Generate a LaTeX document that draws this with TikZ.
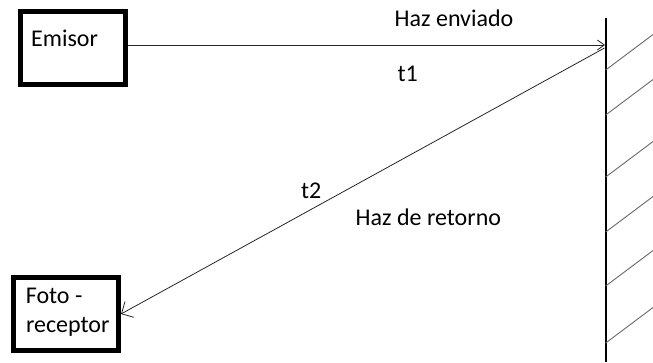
\documentclass[tikz,border=0pt]{standalone}
\usepackage{fontspec}
\setmainfont{Carlito}
\usetikzlibrary{arrows.meta}
\begin{document}
\begin{tikzpicture}[x=1pt,y=-1pt,
  box/.style={draw=black, line width=5pt, minimum width=105pt, minimum height=73pt, inner sep=0pt},
  lbl/.style={anchor=base west, inner sep=0pt, font=\fontsize{24}{29}\selectfont},
  beam/.style={draw=black!85, line width=0.8pt},
  hatch/.style={draw=black!60, line width=0.9pt},
  wall/.style={draw=black, line width=1.6pt}
]
\useasboundingbox (0,0) rectangle (653,362);
% boxes
\node[box] (emisor) at (73,48) {};
\node[box] (foto) at (66,314) {};
% labels inside boxes
\node[lbl] (emisortxt) at (31,46.7) {Emisor};
\node[lbl] (fototxt) at (25.6,303.3) {Foto -};
\node[lbl] (receptortxt) at (25.8,332.3) {receptor};
% wall
\coordinate (walltop) at (605.7,18);
\coordinate (wallbot) at (605.7,362);
\draw[wall] (walltop) -- (wallbot);
\foreach \y in {70,115,177,232,286,343}
  \draw[hatch] (605.7,\y) -- (653,\y-35.5);
% beams
\coordinate (hit) at (605,45);
\coordinate (ret) at (604.5,48);
\draw[beam, -{Straight Barb[length=7pt,width=10pt,line width=0.8pt]}] ([yshift=3pt]emisor.east) -- (hit);
\draw[beam, -{Straight Barb[length=9pt,width=18pt,line width=0.8pt]}] (ret) -- (foto.east);
% beam labels
\node[lbl] (enviado) at (394.5,26.7) {Haz enviado};
\node[lbl] (t1) at (397.5,81.7) {t1};
\node[lbl] (t2) at (301,198.3) {t2};
\node[lbl] (retorno) at (355.5,225) {Haz de retorno};
\end{tikzpicture}
\end{document}
